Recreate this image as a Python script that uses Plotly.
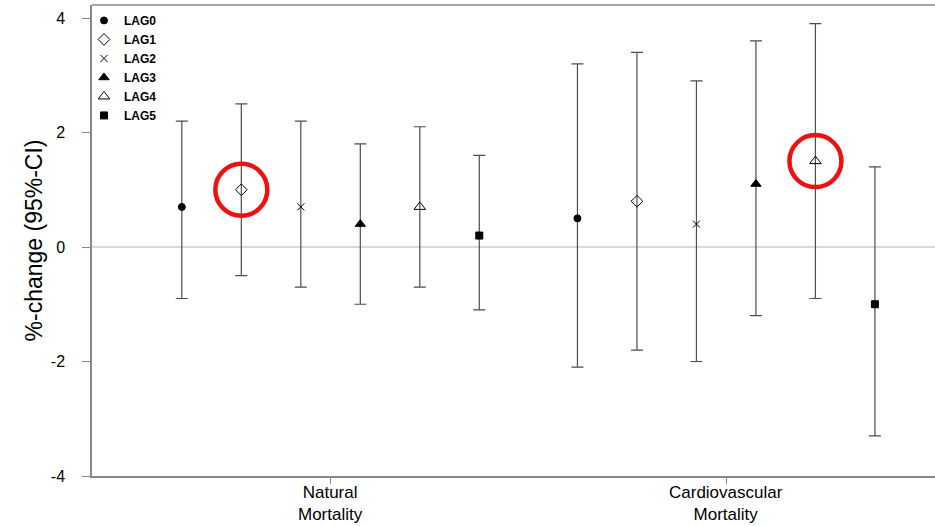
import plotly.graph_objects as go

# ---- data ----
groups = ["Natural<br>Mortality", "Cardiovascular<br>Mortality"]
lags = ["LAG0", "LAG1", "LAG2", "LAG3", "LAG4", "LAG5"]
natural_est = [0.7, 1.0, 0.7, 0.4, 0.7, 0.2]
natural_lo = [-0.9, -0.5, -0.7, -1.0, -0.7, -1.1]
natural_hi = [2.2, 2.5, 2.2, 1.8, 2.1, 1.6]
cardio_est = [0.5, 0.8, 0.4, 1.1, 1.5, -1.0]
cardio_lo = [-2.1, -1.8, -2.0, -1.2, -0.9, -3.3]
cardio_hi = [3.2, 3.4, 2.9, 3.6, 3.9, 1.4]
highlighted = [(0, 1), (1, 4)]  # (group index, lag index) circled in red
y_ticks = [-4, -2, 0, 2, 4]

# ---- styling / layout ----
group_offset = [0.0, 6.65]
symbols = ["circle", "diamond-open", "x-thin-open", "triangle-up", "triangle-up-open", "square"]
sizes = [7, 9, 7, 9, 10, 7]
est = [natural_est, cardio_est]
lo = [natural_lo, cardio_lo]
hi = [natural_hi, cardio_hi]

fig = go.Figure()
for i, lag in enumerate(lags):
    xs = [group_offset[g] + i for g in range(2)]
    ys = [est[g][i] for g in range(2)]
    plus = [hi[g][i] - est[g][i] for g in range(2)]
    minus = [est[g][i] - lo[g][i] for g in range(2)]
    fig.add_trace(go.Scatter(
        x=xs, y=ys, mode="markers", name=lag,
        marker=dict(symbol=symbols[i], size=sizes[i], color="black",
                    line=dict(color="black", width=1)),
        error_y=dict(type="data", symmetric=False, array=plus, arrayminus=minus,
                     color="#4d4d4d", thickness=1.2, width=6),
    ))

tickvals = [group_offset[g] + (len(lags) - 1) / 2 for g in range(2)]

shapes = [
    # zero reference line
    dict(type="line", xref="paper", yref="y", x0=0, x1=1, y0=0, y1=0,
         line=dict(color="#d9d9d9", width=2), layer="below"),
    # top frame line
    dict(type="line", xref="paper", yref="paper", x0=0, x1=1, y0=1, y1=1,
         line=dict(color="#888888", width=1.5)),
]
for g, i in highlighted:
    shapes.append(dict(
        type="circle", xref="x", yref="y", xsizemode="pixel", ysizemode="pixel",
        xanchor=group_offset[g] + i, yanchor=est[g][i],
        x0=-26, x1=26, y0=-26, y1=26,
        line=dict(color="#ee1111", width=4.5),
    ))

annotations = [
    dict(x=tv, y=0, xref="x", yref="paper", text=txt, showarrow=False,
         xanchor="center", yanchor="top", yshift=-5, font=dict(size=17))
    for tv, txt in zip(tickvals, groups)
]

fig.update_layout(
    width=935, height=526,
    margin=dict(l=92, r=0, t=5, b=50, autoexpand=False),
    paper_bgcolor="white", plot_bgcolor="white",
    font=dict(family="Liberation Sans, Arial, sans-serif", color="black"),
    showlegend=True,
    legend=dict(x=-0.0095, y=0.998, xanchor="left", yanchor="top",
                bgcolor="rgba(0,0,0,0)", font=dict(size=12, family="Liberation Sans, Arial", weight="bold"),
                tracegroupgap=0, itemwidth=30),
    xaxis=dict(range=[-1.51, 12.66], tickvals=tickvals, showticklabels=False, automargin=False,
               showgrid=False, zeroline=False, showline=True, linecolor="#888888", linewidth=1.5,
               ticks="outside", ticklen=6, tickcolor="#888888"),
    yaxis=dict(range=[-4, 4.227], tickvals=y_ticks, ticktext=[str(v) for v in y_ticks], automargin=False,
               showgrid=False, zeroline=False, showline=True, linecolor="#888888", linewidth=1.5,
               ticks="outside", ticklen=8, tickcolor="#888888", tickfont=dict(size=16),
               ticklabelstandoff=14,
               title=dict(text="%-change (95%-CI)", font=dict(size=23), standoff=2)),
    shapes=shapes,
    annotations=annotations,
)
fig.write_html("out.html", config={"displayModeBar": False},
               post_script="document.body.style.margin='0';")
